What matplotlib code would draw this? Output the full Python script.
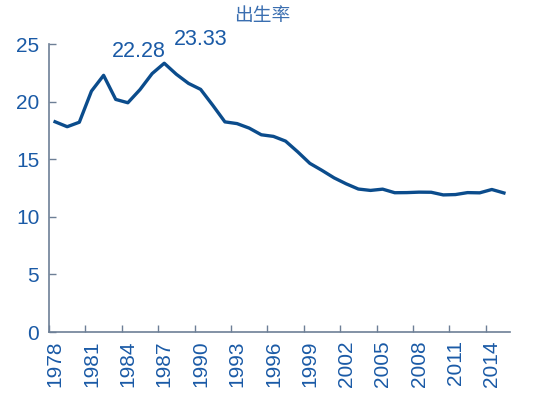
import matplotlib
matplotlib.use("Agg")
import matplotlib.pyplot as plt
import numpy as np

years = list(range(1978, 2016))
birth_rate = [18.25, 17.82, 18.21, 20.91, 22.28, 20.19, 19.90, 21.04, 22.43, 23.33,
              22.37, 21.58, 21.06, 19.68, 18.24, 18.09, 17.70, 17.12, 16.98, 16.57,
              15.64, 14.64, 14.03, 13.38, 12.86, 12.41, 12.29, 12.40, 12.09, 12.10,
              12.14, 12.13, 11.90, 11.93, 12.10, 12.08, 12.37, 12.07]
tick_years = list(range(1978, 2016, 3))
yticks = [0, 5, 10, 15, 20, 25]
title = "出生率"
annotations = [("22.28", 6.92, 24.35), ("23.33", 12.03, 25.43)]

plt.rcParams['font.family'] = ['Liberation Sans', 'Noto Sans CJK SC', 'DejaVu Sans']

fig = plt.figure(figsize=(5.33, 3.95), dpi=100)
ax = fig.add_axes([49/533, 1-332/395, (510-49)/533, (332-44)/395])
ax.set_clip_on(False)

line_c = '#0b4c8c'
text_c = '#1a5aa6'
spine_c = '#6d7f96'

x = np.arange(len(years))
ax.plot(x, birth_rate, color=line_c, lw=2.4, solid_joinstyle='round', clip_on=False)

ax.set_xlim(-0.5, len(years) - 0.5)
ax.set_ylim(0, 25)

idx = [years.index(y) for y in tick_years]
ax.set_xticks(idx)
ax.set_xticklabels([str(y) for y in tick_years], rotation=90, color=text_c, fontsize=15)
ax.tick_params(axis='x', which='major', length=0, pad=6)
ax.set_xticks([i - 0.5 for i in idx], minor=True)
ax.tick_params(axis='x', which='minor', length=5, direction='in', color=spine_c, width=1)

ax.set_yticks(yticks)
ax.set_yticklabels([str(v) for v in yticks], color=text_c, fontsize=15)
ax.tick_params(axis='y', which='major', length=5, direction='in', color=spine_c, width=1, pad=7)

for s in ['top', 'right']:
    ax.spines[s].set_visible(False)
for s in ['left', 'bottom']:
    ax.spines[s].set_color(spine_c)
    ax.spines[s].set_linewidth(1.2)

for txt, xx, yy in annotations:
    ax.text(xx, yy, txt, color=text_c, fontsize=15.5, ha='center', va='center')

fig.text(262/533, 1-15/395, title, color='#3a6eb0', fontsize=13.5, ha='center', va='center',
         family=['Noto Sans CJK SC', 'DejaVu Sans'])

fig.savefig("out.png", dpi=100)
